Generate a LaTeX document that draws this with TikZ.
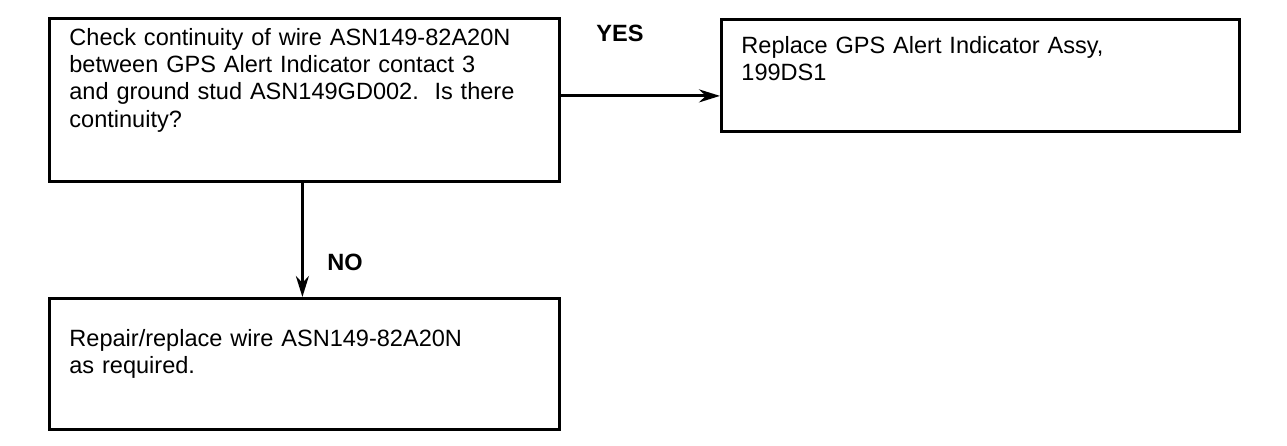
\documentclass[tikz,border=0pt]{standalone}
\usepackage{fontspec}
\setmainfont{Liberation Sans}
\usetikzlibrary{arrows, arrows.meta, positioning}
\tikzstyle{arrow}  = [line width=1.6pt,->,>={Stealth[length=0.42cm,width=0.26cm]}]
\tikzstyle{box}    = [draw, line width=1.6pt, rectangle, align=left, inner xsep=0.4cm, text height=0.3cm, font=\fontsize{13.4}{15.5}\selectfont]
\tikzstyle{answer} = [font=\fontsize{13.4}{15.5}\selectfont\bfseries]

\begin{document}
\begin{tikzpicture}[scale=1]
\useasboundingbox (0,0) rectangle (25.74,8.92);

\node[box, anchor=north west, text width=9.4cm, inner ysep=0.24cm, text depth=2.48cm] (check) at (0.96,8.58)
  {Check continuity of wire ASN149-82A20N\\between GPS Alert Indicator contact 3\\and ground stud ASN149GD002.\ \ Is there\\continuity?};
\node[box, anchor=north west, text width=9.56cm, inner ysep=0.38cm, text depth=1.18cm] (replace) at (14.4,8.56)
  {Replace GPS Alert Indicator Assy,\\199DS1};
\node[box, anchor=north west, text width=9.4cm, inner ysep=0.66cm, text depth=1.0cm] (repair) at (0.96,2.98)
  {Repair/replace wire ASN149-82A20N\\as required.};

\node[answer] (yes) at (12.4,8.26) {YES};
\node[answer] (no)  at (6.9,3.68) {NO};

\draw[arrow] ([yshift=0.08cm]check.east) -- ([yshift=0.08cm]check.east -| replace.west);
\draw[arrow] ([xshift=-0.04cm]check.south) -- ([xshift=-0.04cm]repair.north);

\end{tikzpicture}
\end{document}
